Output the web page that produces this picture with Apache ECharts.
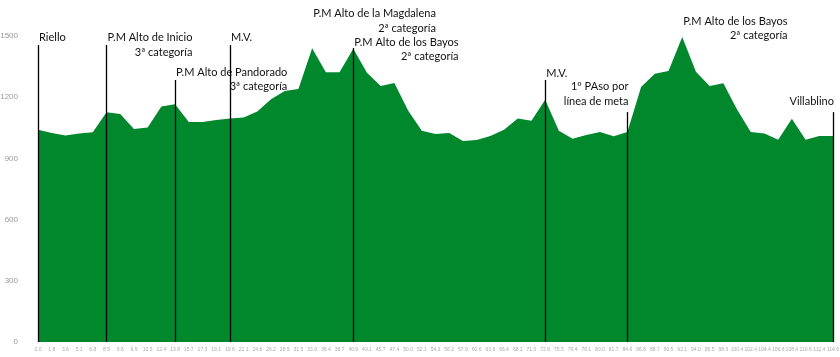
<!DOCTYPE html>
<html><head><meta charset="utf-8">
<script src="https://cdn.jsdelivr.net/npm/echarts@6/dist/echarts.min.js"></script>
<style>html,body{margin:0;padding:0;background:#fff}#c{width:840px;height:357px}</style>
</head><body><div id="c"></div>
<script>
// Distance labels (km) along the stage
const kmLabels = ['0.0','1.8','3.6','5.1','6.8','8.5','9.6','9.9','10.5','12.4','13.8','15.7','17.3','19.1','19.6','21.1','24.6','26.2','28.9','31.5','33.9','36.4','38.7','40.9','43.1','45.7','47.4','50.0','52.1','54.3','56.2','57.9','60.6','63.6','66.4','68.1','71.0','72.6','75.5','76.4','78.1','80.0','81.7','84.6','86.8','88.7','90.5','92.1','94.0','95.5','98.3','100.4','102.4','104.4','106.6','108.4','110.6','112.4','114.6'];
// Elevation (m)
const elevation = [1040,1025,1012,1022,1028,1126,1118,1044,1051,1155,1166,1078,1078,1088,1095,1100,1130,1190,1230,1240,1440,1322,1322,1438,1320,1255,1270,1135,1035,1020,1025,985,990,1010,1040,1095,1085,1188,1036,996,1015,1030,1008,1030,1250,1315,1328,1495,1325,1255,1268,1140,1030,1022,992,1094,992,1010,1010];
const yTicks = [0,300,600,900,1200,1500];

// Annotations (category index + text lines)
const markIndex = [0,5,10,14,20,23,37,43,47,58];
const markText = [
  ['Riello'],
  ['P.M Alto de Inicio','3ª categoría'],
  ['P.M Alto de Pandorado','3ª categoría'],
  ['M.V.'],
  ['P.M Alto de la Magdalena','2ª categoría'],
  ['P.M Alto de los Bayos','2ª categoría'],
  ['M.V.'],
  ['1º PAso por','línea de meta'],
  ['P.M Alto de los Bayos','2ª categoría'],
  ['Villablino']
];
const markSide = ['left','left','left','left','left','left','left','right','left','right'];
const markLineTop = [1456,1456,1284,1456,1554,1441,1284,1127,1529,1127];
const markTextTop = [1528,1528,1357,1528,1646,1506,1354,1288,1607,1217];

const GREEN = '#01882d';
const FONT_FAMILY = 'Lato';
const LINE_H = 14.5;

// fit font size so the widest annotation matches the reference width (~123px)
const cv = document.createElement('canvas').getContext('2d');
cv.font = '100px ' + FONT_FAMILY;
const w100 = cv.measureText('P.M Alto de la Magdalena').width;
const FONT_SIZE = Math.max(10, Math.min(14, 100 * 123 / w100));

const chart = echarts.init(document.getElementById('c'), null, {renderer:'canvas'});
const lineData = markIndex.map((idx,k)=>[{coord:[idx,0]},{coord:[idx,markLineTop[k]]}]);

chart.setOption({
  animation:false,
  grid:{left:38,right:7,top:36,bottom:15,containLabel:false,outerBoundsMode:'none'},
  xAxis:{type:'category',data:kmLabels,boundaryGap:false,
    axisLine:{show:false},axisTick:{show:false},
    axisLabel:{interval:0,fontSize:5,color:'#aaa',margin:5}},
  yAxis:{type:'value',min:yTicks[0],max:yTicks[yTicks.length-1],interval:300,
    axisLine:{show:false},axisTick:{show:false},splitLine:{show:false},
    axisLabel:{fontSize:8,color:'#999',margin:20,fontFamily:'Liberation Sans',formatter:v=>String(v)}},
  series:[{
    type:'line',data:elevation,symbol:'none',
    lineStyle:{width:0,color:GREEN},
    areaStyle:{color:GREEN,opacity:1},
    markLine:{silent:true,symbol:'none',animation:false,
      lineStyle:{color:'#000',width:1.3,type:'solid'},
      label:{show:false},data:lineData}
  }]
});

const graphics = markIndex.map((idx,k)=>{
  const p = chart.convertToPixel({xAxisIndex:0,yAxisIndex:0},[idx,markTextTop[k]]);
  const lines = markText[k];
  const side = markSide[k];
  let text, rich = {};
  const base = {fontSize:FONT_SIZE,fontFamily:FONT_FAMILY,fill:'#111',lineHeight:LINE_H};
  if (lines.length === 1) {
    text = lines[0];
  } else {
    text = '{a|' + lines[0] + '}\n{b|' + lines[1] + '}';
    rich = {a:Object.assign({},base,{align: side==='right'?'right':'left'}),
            b:Object.assign({},base,{align:'right'})};
  }
  return {type:'text',x:p[0]+1,y:p[1],silent:true,
    style:{text:text,rich:rich,fontSize:FONT_SIZE,fontFamily:FONT_FAMILY,fill:'#111',
      lineHeight:LINE_H,align:side,verticalAlign:'top'}};
});
chart.setOption({graphic:graphics});
</script></body></html>
